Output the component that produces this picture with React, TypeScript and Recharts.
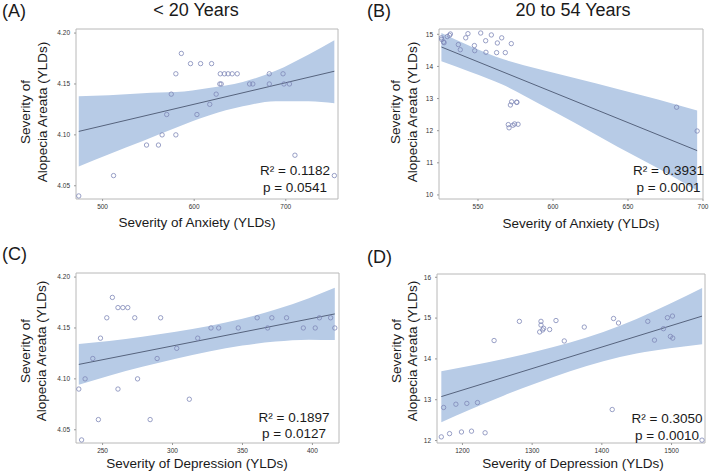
import { ComposedChart, Scatter, Line, Area, XAxis, YAxis, ReferenceArea } from "recharts";

const FONT = '"Liberation Sans", Arial, Helvetica, sans-serif';

// (A) < 20 years, anxiety vs alopecia areata
const youngAnxietyPoints = [
  [474, 4.04], [512, 4.06], [548, 4.09], [561, 4.09], [565, 4.1], [570, 4.12],
  [575, 4.14], [580, 4.16], [580, 4.1], [586, 4.18], [596, 4.17], [603, 4.12],
  [607, 4.17], [617, 4.13], [619, 4.17], [624, 4.14], [628, 4.15], [629.5, 4.15],
  [628.5, 4.16], [633, 4.16], [637, 4.16], [641.5, 4.16], [647, 4.16], [660.5, 4.15],
  [664, 4.15], [682, 4.16], [682, 4.15], [697, 4.16], [698, 4.15], [704, 4.15],
  [710, 4.08], [753, 4.06],
];
const youngAnxietyFit = [[474, 4.1034], [753, 4.1625]];
const youngAnxietyBand = [
  [474, 4.069, 4.138], [507, 4.081, 4.139], [544, 4.094, 4.141], [580, 4.107, 4.142],
  [616, 4.119, 4.146], [653, 4.128, 4.152], [689, 4.133, 4.163], [725, 4.133, 4.179],
  [753, 4.131, 4.193],
];

// (B) 20 to 54 years, anxiety
const adultAnxietyPoints = [
  [525.6, 14.89], [525.8, 14.84], [527, 14.76], [527.4, 14.74], [529.5, 14.93],
  [531, 14.97], [531.6, 15.01], [536.9, 14.68], [538.2, 14.52], [541.8, 14.89],
  [543.3, 15.02], [547.6, 14.65], [547.8, 14.49], [551.8, 15.04], [555.1, 14.8],
  [555.3, 14.44], [558.9, 14.98], [562.9, 14.73], [562.4, 14.43], [565.8, 14.89],
  [568.2, 14.43], [572.2, 14.71], [572.4, 12.9], [571.6, 12.8], [575.8, 12.89],
  [575.9, 12.88], [570.2, 12.19], [570.7, 12.09], [573.3, 12.17], [574.4, 12.21],
  [576.7, 12.2], [682.4, 12.73], [696.1, 11.99],
];
const adultAnxietyFit = [[525.6, 14.605], [696.1, 11.38]];
const adultAnxietyBand = [
  [525.6, 14.16, 15.04], [545, 13.83, 14.63], [567, 13.42, 14.22], [591, 12.83, 13.91],
  [615, 12.23, 13.63], [643, 11.5, 13.3], [670, 10.83, 12.97], [696.1, 10.14, 12.63],
];

// (C) < 20 years, depression
const youngDepressionPoints = [
  [233, 4.09], [235, 4.04], [237.5, 4.1], [243, 4.12], [247, 4.06], [248.5, 4.14],
  [253, 4.16], [257, 4.18], [261, 4.17], [261, 4.09], [264.5, 4.17], [268, 4.17],
  [273, 4.16], [275, 4.1], [284, 4.06], [289, 4.12], [291.5, 4.16], [303, 4.13],
  [312, 4.08], [318, 4.14], [327.5, 4.15], [333, 4.15], [347, 4.15], [360.5, 4.16],
  [368, 4.15], [371, 4.16], [381.5, 4.16], [393.5, 4.15], [402, 4.15], [405, 4.16],
  [413, 4.16], [416, 4.15],
];
const youngDepressionFit = [[233, 4.1142], [416, 4.1638]];
const youngDepressionBand = [
  [233, 4.0941, 4.1343], [254.7, 4.103, 4.1372], [278.4, 4.1118, 4.1414],
  [302.3, 4.1198, 4.1462], [326.1, 4.127, 4.152], [349.9, 4.1327, 4.1591],
  [373.7, 4.1366, 4.1682], [397.5, 4.1385, 4.1793], [416, 4.1381, 4.1895],
];

// (D) 20 to 54 years, depression
const adultDepressionPoints = [
  [1169.7, 12.09], [1173, 12.81], [1181.5, 12.17], [1190.6, 12.89], [1198.6, 12.21],
  [1206.3, 12.91], [1213, 12.23], [1221.6, 12.93], [1232.5, 12.19], [1245.4, 14.45],
  [1281.7, 14.92], [1310.8, 14.66], [1312.7, 14.92], [1312.7, 14.83], [1315.1, 14.71],
  [1316.5, 14.75], [1325.1, 14.72], [1334.2, 14.94], [1346.1, 14.44], [1374.8, 14.78],
  [1414.9, 12.76], [1416.8, 14.99], [1423.9, 14.88], [1465.9, 14.92], [1475.5, 14.46],
  [1488.4, 14.74], [1494.1, 15.01], [1498.4, 14.55], [1501.3, 15.05], [1501.7, 14.51],
  [1543.7, 12.01],
];
const adultDepressionFit = [[1169.7, 13.077], [1543.7, 15.048]];
const adultDepressionBand = [
  [1169.7, 12.45, 13.7], [1211.2, 12.76, 13.83], [1258.9, 13.1, 14.0], [1306.6, 13.41, 14.19],
  [1354.4, 13.7, 14.4], [1402.1, 13.94, 14.66], [1449.8, 14.13, 14.98], [1497.6, 14.26, 15.35],
  [1543.9, 14.36, 15.74],
];

const Ring = (props: any) => (
  <circle cx={props.cx} cy={props.cy} r={2.2} fill="none" stroke="#7f88b8" strokeWidth={0.8} />
);

const Y_AXIS_W = 36;
const PAD_TOP = 9;
const X_AXIS_H = 20;

function RegressionPanel(props: {
  box: [number, number, number, number];
  xDomain: [number, number];
  yDomain: [number, number];
  xTicks: number[];
  yTicks: number[];
  yDigits: number;
  points: number[][];
  fit: number[][];
  band: number[][];
}) {
  const [left, top, right, bottom] = props.box;
  const width = right - left + Y_AXIS_W + 6;
  const height = bottom - top + PAD_TOP + X_AXIS_H;
  const bandData = props.band.map(([x, lo, hi]) => ({ x, range: [lo, hi] }));
  const pointData = props.points.map(([x, y]) => ({ x, y }));
  const fitData = props.fit.map(([x, y]) => ({ x, y }));
  const tick = { fontSize: 6.5, fill: "#333", fontFamily: FONT };
  return (
    <div style={{ position: "absolute", left: left - Y_AXIS_W, top: top - PAD_TOP }}>
      <ComposedChart
        width={width}
        height={height}
        data={bandData}
        margin={{ top: PAD_TOP, right: 6, bottom: 0, left: 0 }}
      >
        <XAxis
          dataKey="x"
          type="number"
          domain={props.xDomain}
          ticks={props.xTicks}
          interval={0}
          allowDataOverflow
          height={X_AXIS_H}
          axisLine={false}
          tickSize={2}
          tickMargin={3}
          tickLine={{ stroke: "#999" }}
          tick={tick}
        />
        <YAxis
          type="number"
          domain={props.yDomain}
          ticks={props.yTicks}
          interval={0}
          allowDataOverflow
          width={Y_AXIS_W}
          axisLine={false}
          tickSize={2}
          tickMargin={4}
          tickLine={{ stroke: "#999" }}
          tick={tick}
          tickFormatter={(v: number) => v.toFixed(props.yDigits)}
        />
        <Area
          dataKey="range"
          type="monotone"
          fill="#b7cbe6"
          fillOpacity={1}
          stroke="none"
          isAnimationActive={false}
        />
        <Line
          data={fitData}
          dataKey="y"
          type="linear"
          stroke="#56637d"
          strokeWidth={1}
          dot={false}
          isAnimationActive={false}
        />
        <Scatter data={pointData} dataKey="y" shape={Ring} isAnimationActive={false} />
        <ReferenceArea
          x1={props.xDomain[0]}
          x2={props.xDomain[1]}
          y1={props.yDomain[0]}
          y2={props.yDomain[1]}
          fill="none"
          stroke="#b8b8b8"
          strokeWidth={1}
        />
      </ComposedChart>
    </div>
  );
}

function YTitle({ x, y }: { x: number; y: number }) {
  return (
    <g fontSize={13.5} textAnchor="middle">
      <text x={x} y={y} transform={`rotate(-90, ${x}, ${y})`}>Severity of</text>
      <text x={x + 16.5} y={y} transform={`rotate(-90, ${x + 16.5}, ${y})`}>
        Alopecia Areata (YLDs)
      </text>
    </g>
  );
}

function Stats({ x, y, r2, p }: { x: number; y: number; r2: string; p: string }) {
  return (
    <g fontSize={13.5} textAnchor="middle">
      <text x={x} y={y}>R² = {r2}</text>
      <text x={x} y={y + 16.5}>p = {p}</text>
    </g>
  );
}

export default function App() {
  return (
    <div style={{ position: "absolute", left: 0, top: 0, width: 709, height: 475, background: "#fff" }}>
      <RegressionPanel
        box={[76, 29, 338, 199]}
        xDomain={[471, 757]}
        yDomain={[4.037, 4.204]}
        xTicks={[500, 600, 700]}
        yTicks={[4.05, 4.1, 4.15, 4.2]}
        yDigits={2}
        points={youngAnxietyPoints}
        fit={youngAnxietyFit}
        band={youngAnxietyBand}
      />
      <RegressionPanel
        box={[439, 29, 703, 199]}
        xDomain={[524, 700]}
        yDomain={[9.874, 15.165]}
        xTicks={[550, 600, 650, 700]}
        yTicks={[10, 11, 12, 13, 14, 15]}
        yDigits={0}
        points={adultAnxietyPoints}
        fit={adultAnxietyFit}
        band={adultAnxietyBand}
      />
      <RegressionPanel
        box={[76, 273, 339, 443]}
        xDomain={[231, 419]}
        yDomain={[4.037, 4.204]}
        xTicks={[250, 300, 350, 400]}
        yTicks={[4.05, 4.1, 4.15, 4.2]}
        yDigits={2}
        points={youngDepressionPoints}
        fit={youngDepressionFit}
        band={youngDepressionBand}
      />
      <RegressionPanel
        box={[437, 274, 705, 443]}
        xDomain={[1163.5, 1548]}
        yDomain={[11.94, 16.08]}
        xTicks={[1200, 1300, 1400, 1500]}
        yTicks={[12, 13, 14, 15, 16]}
        yDigits={0}
        points={adultDepressionPoints}
        fit={adultDepressionFit}
        band={adultDepressionBand}
      />
      <svg
        width={709}
        height={475}
        style={{ position: "absolute", left: 0, top: 0, pointerEvents: "none" }}
        fontFamily={FONT}
        fill="#1a1a1a"
      >
        <g fontSize={18}>
          <text x={2} y={17}>(A)</text>
          <text x={367} y={17}>(B)</text>
          <text x={2} y={260}>(C)</text>
          <text x={367} y={263}>(D)</text>
          <text x={196} y={16} textAnchor="middle">{"< 20 Years"}</text>
          <text x={573} y={16} textAnchor="middle">20 to 54 Years</text>
        </g>
        <YTitle x={30} y={112} />
        <YTitle x={400} y={112} />
        <YTitle x={29.5} y={351} />
        <YTitle x={400.5} y={351} />
        <g fontSize={13.5} textAnchor="middle">
          <text x={197} y={227}>Severity of Anxiety (YLDs)</text>
          <text x={581} y={227.5}>Severity of Anxiety (YLDs)</text>
          <text x={197} y={467.5}>Severity of Depression (YLDs)</text>
          <text x={573} y={468}>Severity of Depression (YLDs)</text>
        </g>
        <Stats x={295} y={175} r2="0.1182" p="0.0541" />
        <Stats x={668.5} y={175} r2="0.3931" p="0.0001" />
        <Stats x={294} y={421.5} r2="0.1897" p="0.0127" />
        <Stats x={667} y={423} r2="0.3050" p="0.0010" />
      </svg>
    </div>
  );
}
